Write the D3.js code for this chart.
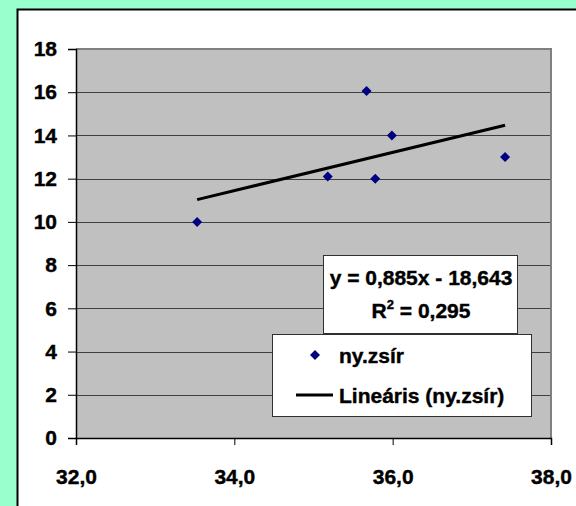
<!DOCTYPE html>
<html>
<head>
    <title>ny.zsír - scatter</title>
    <meta charset="utf-8">
    <style>
    body {
        margin: 0;
        background-color: #99FFCC;
    }
    svg {
        display: block;
    }
    text {
        font-family: "Liberation Sans", Arial, sans-serif;
        font-weight: 700;
        font-size: 21px;
        fill: #000;
        stroke: #000;
        stroke-width: 0.4px;
    }
    </style>
    <script src="https://d3js.org/d3.v7.min.js"></script>
</head>
<body>
<script>
    // data
    const xValues = [33.53, 35.18, 35.67, 35.78, 35.99, 37.42];
    const yValues = [10, 12.1, 16.06, 12, 14, 13];
    const xTicks = [32, 34, 36, 38];
    const yTicks = [0, 2, 4, 6, 8, 10, 12, 14, 16, 18];
    const seriesName = 'ny.zsír';
    const trendName = 'Lineáris (ny.zsír)';
    const slope = 0.885, intercept = -18.643, rSquared = 0.295;

    const width = 576, height = 506;
    const plot = { left: 76, top: 49, right: 551, bottom: 438 };

    const comma = (v, p) => d3.format(`.${p}f`)(v).replace('.', ',');

    const svg = d3.select('body').append('svg')
        .attr('width', width)
        .attr('height', height);

    // chart area (white)
    svg.append('rect')
        .attr('x', 17.5).attr('y', 9.5)
        .attr('width', 600).attr('height', 600)
        .attr('fill', '#fff')
        .attr('stroke', '#000')
        .attr('stroke-width', 2);

    const x = d3.scaleLinear().domain([32, 38]).range([plot.left, plot.right]);
    const y = d3.scaleLinear().domain([0, 18]).range([plot.bottom, plot.top]);

    // plot area
    svg.append('rect')
        .attr('x', plot.left).attr('y', plot.top)
        .attr('width', plot.right - plot.left)
        .attr('height', plot.bottom - plot.top)
        .attr('fill', '#C0C0C0');

    // gridlines
    svg.append('g')
        .selectAll('line')
        .data(yTicks.filter(d => d > 0 && d < 18))
        .join('line')
        .attr('x1', plot.left).attr('x2', plot.right)
        .attr('y1', d => Math.round(y(d)) + 0.5)
        .attr('y2', d => Math.round(y(d)) + 0.5)
        .attr('stroke', '#404040')
        .attr('stroke-width', 1);

    // plot border top / right
    svg.append('path')
        .attr('d', `M${plot.left},${plot.top} H${plot.right} V${plot.bottom}`)
        .attr('fill', 'none')
        .attr('stroke', '#808080')
        .attr('stroke-width', 2);

    // axes
    const yAxis = svg.append('g')
        .attr('transform', `translate(${plot.left},0)`)
        .call(d3.axisLeft(y).tickValues(yTicks).tickSize(8).tickPadding(11));
    const xAxis = svg.append('g')
        .attr('transform', `translate(0,${plot.bottom})`)
        .call(d3.axisBottom(x).tickValues(xTicks).tickFormat(d => comma(d, 1)).tickSize(7).tickPadding(24));

    [yAxis, xAxis].forEach(g => {
        g.attr('font-size', null).attr('font-family', null);
        g.select('.domain').attr('stroke', '#000').attr('stroke-width', 1.5);
        g.selectAll('.tick line').attr('stroke', '#000');
    });

    // trendline
    const xExt = d3.extent(xValues);
    svg.append('line')
        .attr('x1', x(xExt[0])).attr('y1', y(slope * xExt[0] + intercept))
        .attr('x2', x(xExt[1])).attr('y2', y(slope * xExt[1] + intercept))
        .attr('stroke', '#000')
        .attr('stroke-width', 3);

    // points
    const diamond = d3.symbol().type(d3.symbolSquare).size(50);
    svg.append('g')
        .selectAll('path')
        .data(xValues.map((v, i) => [v, yValues[i]]))
        .join('path')
        .attr('d', diamond)
        .attr('transform', d => `translate(${x(d[0])},${y(d[1])}) rotate(45)`)
        .attr('fill', '#000080');

    // equation label
    const eq = svg.append('g');
    eq.append('rect')
        .attr('x', 323.5).attr('y', 255.5)
        .attr('width', 194).attr('height', 78)
        .attr('fill', '#fff')
        .attr('stroke', '#303030');
    eq.append('text')
        .attr('x', 421).attr('y', 285)
        .attr('text-anchor', 'middle')
        .text(`y = ${comma(slope, 3)}x - ${comma(-intercept, 3)}`);
    const r2 = eq.append('text')
        .attr('x', 421).attr('y', 318)
        .attr('text-anchor', 'middle');
    r2.append('tspan').text('R');
    r2.append('tspan').attr('dy', -9).style('font-size', '13px').text('2');
    r2.append('tspan').attr('dy', 9).text(` = ${comma(rSquared, 3)}`);

    // legend
    const leg = svg.append('g');
    leg.append('rect')
        .attr('x', 272.5).attr('y', 334.5)
        .attr('width', 259).attr('height', 82)
        .attr('fill', '#fff')
        .attr('stroke', '#303030');
    leg.append('path')
        .attr('d', diamond)
        .attr('transform', 'translate(315,355) rotate(45)')
        .attr('fill', '#000080');
    leg.append('text')
        .attr('x', 339).attr('y', 363)
        .text(seriesName);
    leg.append('line')
        .attr('x1', 296).attr('x2', 333)
        .attr('y1', 395).attr('y2', 395)
        .attr('stroke', '#000')
        .attr('stroke-width', 3);
    leg.append('text')
        .attr('x', 339).attr('y', 403)
        .text(trendName);
</script>
</body>
</html>
